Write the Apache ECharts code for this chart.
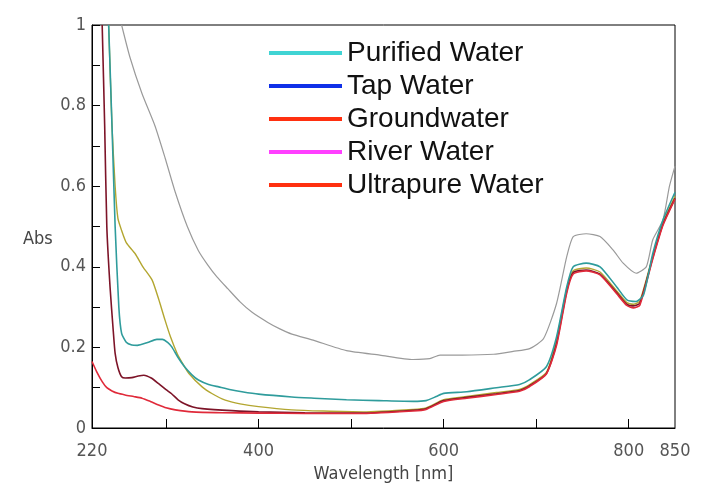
<!DOCTYPE html>
<html>
<head>
<meta charset="utf-8">
<script src="https://cdn.jsdelivr.net/npm/echarts@6/dist/echarts.min.js"></script>
<style>html,body{margin:0;padding:0;background:#fff}#c{width:714px;height:498px}</style>
</head>
<body>
<div id="c"></div>
<script>
// ---- data ----
const xLabelValues = [220, 400, 600, 800, 850];
const xTickValues = [300, 400, 500, 600, 700, 800];
const yLabelValues = [0, 0.2, 0.4, 0.6, 0.8, 1];

const legendNames = ['Purified Water', 'Tap Water', 'Groundwater', 'River Water', 'Ultrapure Water'];
const legendColors = ['#40d4d4', '#1030e8', '#ff3010', '#ff40ff', '#ff3010'];

const riverWl  = [252, 261, 274, 288, 299, 310, 323, 335, 345, 355, 367, 380, 393, 410, 423, 436, 459, 495, 531, 567, 585, 596, 620, 654, 675, 693, 708, 722, 733, 740, 754, 769, 783, 794, 808, 819, 826, 837, 844, 850];
const riverAbs = [1.0, 0.92, 0.83, 0.75, 0.67, 0.585, 0.50, 0.44, 0.405, 0.375, 0.345, 0.313, 0.287, 0.262, 0.246, 0.233, 0.218, 0.192, 0.181, 0.170, 0.172, 0.181, 0.181, 0.183, 0.19, 0.197, 0.222, 0.309, 0.425, 0.475, 0.482, 0.475, 0.442, 0.409, 0.384, 0.40, 0.467, 0.516, 0.6, 0.65];

const purifiedWl  = [238, 241.6, 245, 249, 252, 257, 263, 269, 280, 290, 296, 302, 306, 313, 320, 328, 335, 346, 357, 370, 382, 400, 436, 460, 495, 530, 567, 581, 592, 600, 625, 657, 682, 693, 711, 722, 733, 740, 754, 769, 787, 798, 808, 816, 826, 837, 850];
const purifiedAbs = [1.0, 0.75, 0.50, 0.30, 0.235, 0.213, 0.206, 0.205, 0.212, 0.22, 0.22, 0.212, 0.202, 0.175, 0.152, 0.132, 0.119, 0.108, 0.102, 0.095, 0.09, 0.084, 0.077, 0.074, 0.07, 0.068, 0.066, 0.068, 0.078, 0.086, 0.09, 0.1, 0.108, 0.12, 0.152, 0.226, 0.35, 0.40, 0.409, 0.40, 0.35, 0.318, 0.314, 0.33, 0.433, 0.516, 0.585];

const tapWl  = [238, 241.6, 245, 248, 252, 257, 266.5, 275, 285, 292, 299, 305, 312, 318, 324.5, 339, 350, 364, 380, 400, 436, 470, 513, 567, 581, 600, 625, 657, 682, 693, 711, 722, 733, 740, 754, 769, 787, 798, 805, 812, 826, 837, 850];
const tapAbs = [1.0, 0.75, 0.6, 0.52, 0.49, 0.46, 0.433, 0.40, 0.367, 0.32, 0.267, 0.225, 0.185, 0.16, 0.136, 0.102, 0.085, 0.069, 0.06, 0.053, 0.045, 0.042, 0.04, 0.046, 0.05, 0.07, 0.078, 0.088, 0.096, 0.108, 0.138, 0.22, 0.345, 0.39, 0.397, 0.387, 0.34, 0.311, 0.307, 0.315, 0.427, 0.51, 0.575];

const groundWl  = [231, 233.7, 236, 239.5, 243, 245, 248, 252, 256, 263, 270, 276, 284, 292, 300, 306, 313, 320, 329, 339, 371, 400, 450, 513, 567, 581, 600, 625, 657, 682, 693, 711, 722, 733, 740, 754, 769, 787, 798, 805, 812, 826, 837, 850];
const groundAbs = [1.0, 0.75, 0.5, 0.35, 0.24, 0.185, 0.15, 0.127, 0.124, 0.125, 0.129, 0.131, 0.124, 0.11, 0.095, 0.085, 0.07, 0.06, 0.052, 0.048, 0.043, 0.04, 0.038, 0.037, 0.044, 0.048, 0.068, 0.076, 0.085, 0.093, 0.105, 0.135, 0.21, 0.34, 0.386, 0.392, 0.382, 0.336, 0.307, 0.303, 0.31, 0.423, 0.506, 0.57];

const ultraWl  = [220, 225, 231, 236, 241.6, 248, 255.7, 265, 274, 283, 292, 300, 310, 328, 360, 400, 450, 513, 567, 581, 600, 625, 657, 682, 693, 711, 722, 733, 740, 754, 769, 787, 798, 805, 812, 826, 837, 850];
const ultraAbs = [0.165, 0.14, 0.115, 0.1, 0.092, 0.086, 0.082, 0.078, 0.074, 0.066, 0.057, 0.05, 0.045, 0.04, 0.038, 0.037, 0.036, 0.036, 0.042, 0.046, 0.066, 0.074, 0.083, 0.091, 0.103, 0.134, 0.205, 0.335, 0.382, 0.39, 0.38, 0.333, 0.304, 0.298, 0.305, 0.42, 0.503, 0.568];

// ---- chart ----
const zip = (a, b) => a.map((v, i) => [v, b[i]]);
const axisFont = "'DejaVu Sans Condensed', 'Liberation Sans Narrow', 'DejaVu Sans', sans-serif";

function line(name, wl, ab, color, width) {
  return {
    name, type: 'line', data: zip(wl, ab), showSymbol: false, symbol: 'none',
    smooth: 0.2, clip: true,
    lineStyle: { color, width }, itemStyle: { color },
    emphasis: { disabled: true }
  };
}

const chart = echarts.init(document.getElementById('c'), null, { renderer: 'canvas' });
chart.setOption({
  animation: false,
  backgroundColor: '#fff',
  grid: { left: 92, top: 25, right: 39, bottom: 70, show: true, borderColor: '#000', borderWidth: 1, backgroundColor: 'transparent' },
  legend: {
    orient: 'vertical', left: 264, top: 34, itemWidth: 73, itemHeight: 4, itemGap: 5, icon: 'rect',
    selectedMode: false,
    textStyle: { fontFamily: "'Liberation Sans', Arial, sans-serif", fontSize: 28, color: '#111' },
    data: legendNames.map((n, i) => ({ name: n, itemStyle: { color: legendColors[i] }, lineStyle: { color: legendColors[i] } }))
  },
  xAxis: {
    type: 'value', min: 220, max: 850,
    name: 'Wavelength [nm]', nameLocation: 'middle', nameGap: 32,
    nameTextStyle: { fontFamily: axisFont, fontSize: 18, color: '#444' },
    axisLine: { lineStyle: { color: '#000', width: 1 } },
    axisTick: { inside: true, length: 9, customValues: xTickValues, lineStyle: { color: '#000' } },
    axisLabel: { customValues: xLabelValues, margin: 14, fontFamily: axisFont, fontSize: 18, color: '#555' },
    splitLine: { show: false }
  },
  yAxis: {
    type: 'value', min: 0, max: 1, interval: 0.1,
    axisLine: { show: true, lineStyle: { color: '#000', width: 1 } },
    axisTick: { show: true, inside: true, length: 8, lineStyle: { color: '#000' } },
    axisLabel: { customValues: yLabelValues, margin: 6, fontFamily: axisFont, fontSize: 18, color: '#555',
      formatter: v => String(Math.round(v * 10) / 10) },
    splitLine: { show: false }
  },
  graphic: [{ type: 'text', left: 23, top: 230, style: { text: 'Abs', fontFamily: axisFont, fontSize: 18, fill: '#444' } }],
  series: [
    line('River Water', riverWl, riverAbs, '#9a9a9a', 1.2),
    line('Tap Water', tapWl, tapAbs, '#b3a630', 1.4),
    line('Groundwater', groundWl, groundAbs, '#7d1428', 1.6),
    line('Ultrapure Water', ultraWl, ultraAbs, '#e02a3a', 1.6),
    line('Purified Water', purifiedWl, purifiedAbs, '#2f9c9c', 1.6)
  ]
});
</script>
</body>
</html>
